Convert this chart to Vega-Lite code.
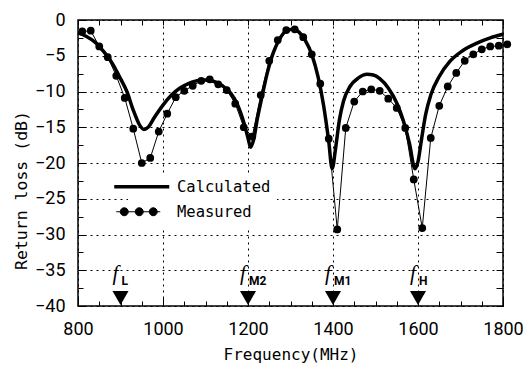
{
  "$schema": "https://vega.github.io/schema/vega-lite/v6.json",
  "width": 425,
  "height": 286,
  "autosize": {"type": "none"},
  "padding": {"left": 78, "top": 20, "right": 20, "bottom": 60},
  "background": "white",
  "config": {
    "view": {"stroke": "black", "strokeWidth": 1.5},
    "axis": {
      "labelFont": "Liberation Sans Narrow, Roboto",
      "labelFontSize": 18,
      "labelColor": "black",
      "labelFlush": false,
      "labelOverlap": false,
      "titleFont": "DejaVu Sans Mono",
      "titleFontWeight": "normal",
      "titleColor": "black",
      "tickColor": "black",
      "tickWidth": 1,
      "gridColor": "black",
      "gridDash": [2, 4],
      "gridWidth": 1,
      "gridOpacity": 1,
      "domain": false
    }
  },
  "datasets": {
    "curves": [
      {"series": "Calculated", "f": 800, "dB": -1.8},
      {"series": "Calculated", "f": 820, "dB": -2.3},
      {"series": "Calculated", "f": 840, "dB": -3.1},
      {"series": "Calculated", "f": 860, "dB": -4.4},
      {"series": "Calculated", "f": 880, "dB": -6.0},
      {"series": "Calculated", "f": 900, "dB": -8.2},
      {"series": "Calculated", "f": 915, "dB": -10.0},
      {"series": "Calculated", "f": 930, "dB": -12.6},
      {"series": "Calculated", "f": 945, "dB": -14.7},
      {"series": "Calculated", "f": 955, "dB": -15.3},
      {"series": "Calculated", "f": 965, "dB": -15.0},
      {"series": "Calculated", "f": 980, "dB": -13.6},
      {"series": "Calculated", "f": 1000, "dB": -11.9},
      {"series": "Calculated", "f": 1020, "dB": -10.5},
      {"series": "Calculated", "f": 1040, "dB": -9.5},
      {"series": "Calculated", "f": 1060, "dB": -8.9},
      {"series": "Calculated", "f": 1080, "dB": -8.5},
      {"series": "Calculated", "f": 1100, "dB": -8.4},
      {"series": "Calculated", "f": 1120, "dB": -8.6},
      {"series": "Calculated", "f": 1140, "dB": -9.2},
      {"series": "Calculated", "f": 1160, "dB": -10.3},
      {"series": "Calculated", "f": 1175, "dB": -11.8},
      {"series": "Calculated", "f": 1190, "dB": -14.3},
      {"series": "Calculated", "f": 1200, "dB": -16.5},
      {"series": "Calculated", "f": 1206, "dB": -17.8},
      {"series": "Calculated", "f": 1213, "dB": -16.8},
      {"series": "Calculated", "f": 1222, "dB": -13.8},
      {"series": "Calculated", "f": 1232, "dB": -11.0},
      {"series": "Calculated", "f": 1245, "dB": -7.5},
      {"series": "Calculated", "f": 1260, "dB": -4.5},
      {"series": "Calculated", "f": 1275, "dB": -2.6},
      {"series": "Calculated", "f": 1290, "dB": -1.5},
      {"series": "Calculated", "f": 1305, "dB": -1.3},
      {"series": "Calculated", "f": 1320, "dB": -1.7},
      {"series": "Calculated", "f": 1335, "dB": -2.9},
      {"series": "Calculated", "f": 1350, "dB": -4.8},
      {"series": "Calculated", "f": 1365, "dB": -8.0},
      {"series": "Calculated", "f": 1378, "dB": -12.0},
      {"series": "Calculated", "f": 1390, "dB": -17.0},
      {"series": "Calculated", "f": 1398, "dB": -20.8},
      {"series": "Calculated", "f": 1406, "dB": -18.0},
      {"series": "Calculated", "f": 1415, "dB": -14.0},
      {"series": "Calculated", "f": 1425, "dB": -11.3},
      {"series": "Calculated", "f": 1440, "dB": -9.3},
      {"series": "Calculated", "f": 1460, "dB": -8.1},
      {"series": "Calculated", "f": 1480, "dB": -7.6},
      {"series": "Calculated", "f": 1495, "dB": -7.7},
      {"series": "Calculated", "f": 1510, "dB": -8.2},
      {"series": "Calculated", "f": 1530, "dB": -9.5},
      {"series": "Calculated", "f": 1550, "dB": -11.6},
      {"series": "Calculated", "f": 1565, "dB": -14.0},
      {"series": "Calculated", "f": 1580, "dB": -17.3},
      {"series": "Calculated", "f": 1593, "dB": -20.8},
      {"series": "Calculated", "f": 1600, "dB": -19.8},
      {"series": "Calculated", "f": 1608, "dB": -16.8},
      {"series": "Calculated", "f": 1618, "dB": -13.2},
      {"series": "Calculated", "f": 1630, "dB": -10.5},
      {"series": "Calculated", "f": 1650, "dB": -7.9},
      {"series": "Calculated", "f": 1675, "dB": -5.8},
      {"series": "Calculated", "f": 1705, "dB": -4.3},
      {"series": "Calculated", "f": 1740, "dB": -3.2},
      {"series": "Calculated", "f": 1770, "dB": -2.5},
      {"series": "Calculated", "f": 1800, "dB": -2.0},
      {"series": "Measured", "f": 810, "dB": -1.6},
      {"series": "Measured", "f": 830, "dB": -1.5},
      {"series": "Measured", "f": 850, "dB": -3.7},
      {"series": "Measured", "f": 870, "dB": -5.2},
      {"series": "Measured", "f": 890, "dB": -7.8},
      {"series": "Measured", "f": 910, "dB": -10.9},
      {"series": "Measured", "f": 930, "dB": -15.2},
      {"series": "Measured", "f": 950, "dB": -20.0},
      {"series": "Measured", "f": 970, "dB": -19.3},
      {"series": "Measured", "f": 990, "dB": -15.6},
      {"series": "Measured", "f": 1010, "dB": -13.1},
      {"series": "Measured", "f": 1030, "dB": -10.8},
      {"series": "Measured", "f": 1050, "dB": -9.9},
      {"series": "Measured", "f": 1070, "dB": -9.2},
      {"series": "Measured", "f": 1090, "dB": -8.5},
      {"series": "Measured", "f": 1110, "dB": -8.3},
      {"series": "Measured", "f": 1130, "dB": -9.0},
      {"series": "Measured", "f": 1150, "dB": -9.8},
      {"series": "Measured", "f": 1170, "dB": -11.7},
      {"series": "Measured", "f": 1190, "dB": -15.0},
      {"series": "Measured", "f": 1210, "dB": -16.3},
      {"series": "Measured", "f": 1230, "dB": -10.5},
      {"series": "Measured", "f": 1250, "dB": -5.7},
      {"series": "Measured", "f": 1270, "dB": -2.8},
      {"series": "Measured", "f": 1290, "dB": -1.4},
      {"series": "Measured", "f": 1310, "dB": -1.3},
      {"series": "Measured", "f": 1330, "dB": -2.4},
      {"series": "Measured", "f": 1350, "dB": -4.8},
      {"series": "Measured", "f": 1370, "dB": -8.9},
      {"series": "Measured", "f": 1390, "dB": -16.6},
      {"series": "Measured", "f": 1410, "dB": -29.3},
      {"series": "Measured", "f": 1430, "dB": -15.1},
      {"series": "Measured", "f": 1450, "dB": -11.4},
      {"series": "Measured", "f": 1470, "dB": -10.0},
      {"series": "Measured", "f": 1490, "dB": -9.7},
      {"series": "Measured", "f": 1510, "dB": -9.9},
      {"series": "Measured", "f": 1530, "dB": -11.0},
      {"series": "Measured", "f": 1550, "dB": -12.3},
      {"series": "Measured", "f": 1570, "dB": -15.1},
      {"series": "Measured", "f": 1590, "dB": -22.3},
      {"series": "Measured", "f": 1610, "dB": -29.1},
      {"series": "Measured", "f": 1630, "dB": -16.5},
      {"series": "Measured", "f": 1650, "dB": -12.0},
      {"series": "Measured", "f": 1670, "dB": -9.3},
      {"series": "Measured", "f": 1690, "dB": -7.4},
      {"series": "Measured", "f": 1710, "dB": -5.7},
      {"series": "Measured", "f": 1730, "dB": -4.8},
      {"series": "Measured", "f": 1750, "dB": -4.1},
      {"series": "Measured", "f": 1770, "dB": -3.7},
      {"series": "Measured", "f": 1790, "dB": -3.6},
      {"series": "Measured", "f": 1810, "dB": -3.4}
    ],
    "markers": [
      {"f": 900, "sub": "L"},
      {"f": 1200, "sub": "M2"},
      {"f": 1400, "sub": "M1"},
      {"f": 1600, "sub": "H"}
    ]
  },
  "layer": [
    {
      "data": {"name": "curves"},
      "transform": [{"filter": "datum.series === 'Calculated'"}],
      "mark": {"type": "line", "strokeWidth": 3.5, "interpolate": "monotone", "clip": false},
      "encoding": {
        "x": {
          "field": "f", "type": "quantitative",
          "scale": {"domain": [800, 1800], "nice": false, "zero": false},
          "axis": {"orient": "bottom", "values": [800, 1000, 1200, 1400, 1600, 1800], "tickSize": -9, "labelPadding": 23, "grid": true, "title": "Frequency(MHz)", "titleFontSize": 16, "titlePadding": 8, "format": "d"}
        },
        "y": {
          "field": "dB", "type": "quantitative",
          "scale": {"domain": [-40, 0], "nice": false, "zero": false},
          "axis": {"orient": "left", "values": [0, -5, -10, -15, -20, -25, -30, -35, -40], "tickSize": -8, "labelPadding": 21, "grid": true, "title": "Return loss (dB)", "titleFontSize": 16.5, "titleX": -49, "titleY": 170, "titleBaseline": "bottom", "titleAlign": "center", "titleAngle": -90, "format": "d"}
        },
        "color": {
          "field": "series", "type": "nominal",
          "scale": {"domain": ["Calculated", "Measured"], "range": ["black", "black"]},
          "legend": {
            "orient": "none", "legendX": 50, "legendY": 153, "title": null,
            "symbolSize": 100, "symbolType": "stroke", "symbolStrokeWidth": 1,
            "labelFont": "DejaVu Sans Mono", "labelFontSize": 15.5, "labelColor": "black",
            "labelOffset": 27.5, "rowPadding": 8, "padding": 6, "fillColor": "white",
            "encode": {
              "symbols": {
                "update": {
                  "shape": {"signal": "datum.value === 'Measured' ? 'M-5.1,0L3.7,0M-4.3,0A0.8,0.8 0 1,0 -2.7,0A0.8,0.8 0 1,0 -4.3,0ZM-1.3,0A0.8,0.8 0 1,0 0.3,0A0.8,0.8 0 1,0 -1.3,0ZM1.5,0A0.8,0.8 0 1,0 3.1,0A0.8,0.8 0 1,0 1.5,0Z' : 'M-5.5,0L5.5,0'"},
                  "strokeWidth": {"signal": "datum.value === 'Measured' ? 1 : 3.5"},
                  "fill": {"value": "black"},
                  "fillOpacity": {"value": 1},
                  "stroke": {"value": "black"},
                  "opacity": {"value": 1}
                }
              }
            }
          }
        }
      }
    },
    {
      "data": {"name": "curves"},
      "transform": [{"filter": "datum.series === 'Measured'"}],
      "mark": {"type": "line", "strokeWidth": 1, "clip": false},
      "encoding": {
        "x": {
          "field": "f", "type": "quantitative",
          "axis": {"orient": "bottom", "values": [800, 850, 900, 950, 1000, 1050, 1100, 1150, 1200, 1250, 1300, 1350, 1400, 1450, 1500, 1550, 1600, 1650, 1700, 1750, 1800], "tickSize": -5, "labels": false, "grid": false, "title": null}
        },
        "y": {
          "field": "dB", "type": "quantitative",
          "axis": {"orient": "left", "values": [0, -2.5, -5, -7.5, -10, -12.5, -15, -17.5, -20, -22.5, -25, -27.5, -30, -32.5, -35, -37.5, -40], "tickSize": -5, "labels": false, "grid": false, "title": null}
        },
        "color": {"field": "series", "type": "nominal"}
      }
    },
    {
      "data": {"name": "curves"},
      "transform": [{"filter": "datum.series === 'Measured'"}],
      "mark": {"type": "circle", "size": 60, "opacity": 1, "color": "black", "clip": false},
      "encoding": {
        "x": {
          "field": "f", "type": "quantitative",
          "axis": {"orient": "top", "values": [800, 850, 900, 950, 1000, 1050, 1100, 1150, 1200, 1250, 1300, 1350, 1400, 1450, 1500, 1550, 1600, 1650, 1700, 1750, 1800], "tickSize": -5, "labels": false, "grid": false, "title": null}
        },
        "y": {
          "field": "dB", "type": "quantitative",
          "axis": {"orient": "right", "values": [0, -2.5, -5, -7.5, -10, -12.5, -15, -17.5, -20, -22.5, -25, -27.5, -30, -32.5, -35, -37.5, -40], "tickSize": -7, "labels": false, "grid": false, "title": null}
        }
      }
    },
    {
      "data": {"name": "markers"},
      "mark": {"type": "point", "shape": "triangle-down", "size": 256, "filled": true, "color": "black", "opacity": 1},
      "encoding": {
        "x": {"field": "f", "type": "quantitative", "axis": null},
        "y": {"datum": -38.88, "type": "quantitative", "axis": null}
      }
    },
    {
      "data": {"name": "markers"},
      "mark": {"type": "text", "text": "f", "font": "Liberation Serif", "fontStyle": "italic", "fontSize": 21, "align": "center", "baseline": "alphabetic", "dx": -5, "color": "black"},
      "encoding": {
        "x": {"field": "f", "type": "quantitative", "axis": null},
        "y": {"datum": -36.3, "type": "quantitative", "axis": null}
      }
    },
    {
      "data": {"name": "markers"},
      "mark": {"type": "text", "font": "Liberation Sans Narrow, Roboto", "fontWeight": "bold", "fontSize": 12, "align": "left", "baseline": "alphabetic", "dx": 1, "color": "black"},
      "encoding": {
        "x": {"field": "f", "type": "quantitative", "axis": null},
        "y": {"datum": -37.0, "type": "quantitative", "axis": null},
        "text": {"field": "sub"}
      }
    }
  ],
  "resolve": {"axis": {"x": "independent", "y": "independent"}}
}
